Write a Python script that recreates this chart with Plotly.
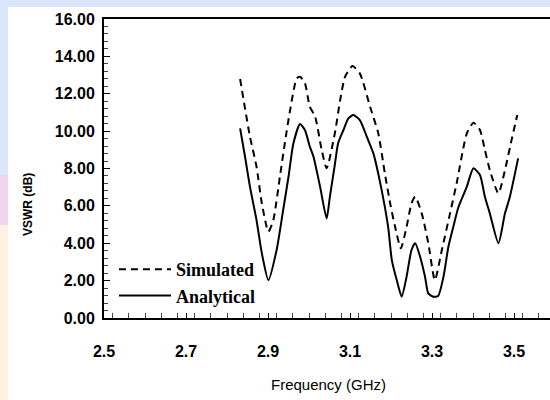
import plotly.graph_objects as go

# Simulated (dashed)
sim_freq = [2.832, 2.856, 2.872, 2.885, 2.901, 2.913, 2.929, 2.941, 2.954, 2.970, 2.978, 2.990,
            3.002, 3.015, 3.031, 3.043, 3.063, 3.076, 3.088, 3.106, 3.124, 3.149, 3.169, 3.185,
            3.198, 3.210, 3.224, 3.238, 3.250, 3.259, 3.275, 3.291, 3.307, 3.324, 3.344, 3.360,
            3.385, 3.401, 3.417, 3.429, 3.441, 3.462, 3.478, 3.494, 3.508]
sim_vswr = [12.79, 9.70, 8.10, 6.13, 4.62, 5.24, 7.56, 9.35, 11.13, 12.82, 12.91, 12.56,
            11.30, 10.77, 8.99, 8.01, 9.88, 11.66, 12.91, 13.48, 13.09, 11.30, 9.88, 7.74,
            6.13, 4.88, 3.73, 4.88, 6.13, 6.49, 5.60, 4.00, 2.03, 3.64, 5.60, 7.20,
            9.88, 10.45, 10.06, 8.99, 7.92, 6.67, 7.92, 9.52, 10.86]

# Analytical (solid)
ana_freq = [2.832, 2.844, 2.856, 2.872, 2.885, 2.901, 2.921, 2.937, 2.950, 2.962, 2.978, 2.990,
            3.002, 3.011, 3.027, 3.043, 3.051, 3.063, 3.071, 3.084, 3.096, 3.108, 3.124, 3.141,
            3.157, 3.173, 3.193, 3.202, 3.214, 3.226, 3.238, 3.250, 3.259, 3.271, 3.283, 3.291,
            3.303, 3.315, 3.328, 3.340, 3.352, 3.364, 3.385, 3.401, 3.417, 3.429, 3.441, 3.462,
            3.478, 3.490, 3.510]
ana_vswr = [10.15, 8.63, 7.03, 5.24, 3.46, 2.03, 3.64, 5.78, 7.56, 9.35, 10.38, 10.06,
            9.17, 8.63, 7.03, 5.33, 6.50, 8.20, 9.35, 10.06, 10.68, 10.86, 10.59, 9.70,
            8.81, 7.30, 4.88, 3.10, 2.03, 1.14, 2.21, 3.64, 4.00, 3.28, 2.21, 1.32,
            1.14, 1.18, 2.21, 3.81, 4.88, 5.90, 7.03, 8.01, 7.65, 6.49, 5.60, 4.00,
            5.60, 6.49, 8.54]

x_ticks = [2.5, 2.7, 2.9, 3.1, 3.3, 3.5]
y_ticks = [0, 2, 4, 6, 8, 10, 12, 14, 16]
y_labels = [f"{v:.2f}" for v in y_ticks]

tick_font = dict(family="Liberation Sans Narrow, Arial Narrow, Liberation Sans, sans-serif",
                 size=16, color="black", weight="bold")

fig = go.Figure()
fig.add_trace(go.Scatter(x=sim_freq, y=sim_vswr, mode="lines", name="Simulated",
                         line=dict(color="black", width=2, dash="7px,5px", shape="spline", smoothing=0.6)))
fig.add_trace(go.Scatter(x=ana_freq, y=ana_vswr, mode="lines", name="Analytical",
                         line=dict(color="black", width=2, shape="spline", smoothing=0.6)))

L, B, T = 104, 82, 19
PW, PH = 446, 299

def px(x):
    return (x - L) / PW

def py(y):
    return (400 - B - y) / PH

fig.update_layout(
    width=550, height=400, autosize=False,
    margin=dict(l=L, r=0, t=T, b=B, pad=0, autoexpand=False),
    paper_bgcolor="#dbe6fa",
    plot_bgcolor="white",
    showlegend=True,
    legend=dict(x=px(114), y=py(251), xanchor="left", yanchor="top",
                bgcolor="rgba(0,0,0,0)", itemwidth=52, tracegroupgap=0,
                font=dict(family="Liberation Serif, Times New Roman, serif", size=18,
                          color="black", weight="bold")),
    xaxis=dict(range=[2.5, 3.5878], tickvals=x_ticks, ticktext=[str(v) for v in x_ticks],
               automargin=False,
               showgrid=False, zeroline=False, showline=True, linecolor="black", linewidth=2,
               mirror=True, ticks="inside", ticklen=5, tickcolor="black", tickwidth=1,
               ticklabelstandoff=18, tickfont=tick_font,
               minor=dict(dtick=0.04, ticks="inside", ticklen=5, tickcolor="#444", tickwidth=1)),
    yaxis=dict(range=[0, 16], tickvals=y_ticks, ticktext=y_labels,
               automargin=False,
               showgrid=False, zeroline=False, showline=True, linecolor="black", linewidth=2,
               ticks="inside", ticklen=6, tickcolor="black", tickwidth=1,
               ticklabelstandoff=4, tickfont=tick_font,
               minor=dict(dtick=0.4, ticks="inside", ticklen=4, tickcolor="#444", tickwidth=1)),
    shapes=[
        dict(type="rect", xref="paper", yref="paper", x0=px(8), x1=px(560), y0=py(410), y1=py(7),
             fillcolor="white", line=dict(width=0), layer="below"),
        dict(type="rect", xref="paper", yref="paper", x0=px(-5), x1=px(8), y0=py(175), y1=py(225),
             fillcolor="#eed6ee", line=dict(width=0), layer="below"),
        dict(type="rect", xref="paper", yref="paper", x0=px(-5), x1=px(8), y0=py(225), y1=py(410),
             fillcolor="#fff0e0", line=dict(width=0), layer="below"),
    ],
    annotations=[
        dict(text="Frequency (GHz)", xref="paper", yref="paper", x=px(328), y=py(384),
             xanchor="center", yanchor="middle", showarrow=False,
             font=dict(family="Liberation Sans, Arial, sans-serif", size=15, color="black")),
        dict(text="VSWR (dB)", xref="paper", yref="paper", x=px(28), y=py(205),
             xanchor="center", yanchor="middle", showarrow=False, textangle=-90,
             font=dict(family="Liberation Sans, Arial, sans-serif", size=12, color="black", weight="bold")),
    ],
)

fig.write_html("out.html", config={"displayModeBar": False},
               post_script="document.body.style.margin='0';document.body.style.overflow='hidden';")
